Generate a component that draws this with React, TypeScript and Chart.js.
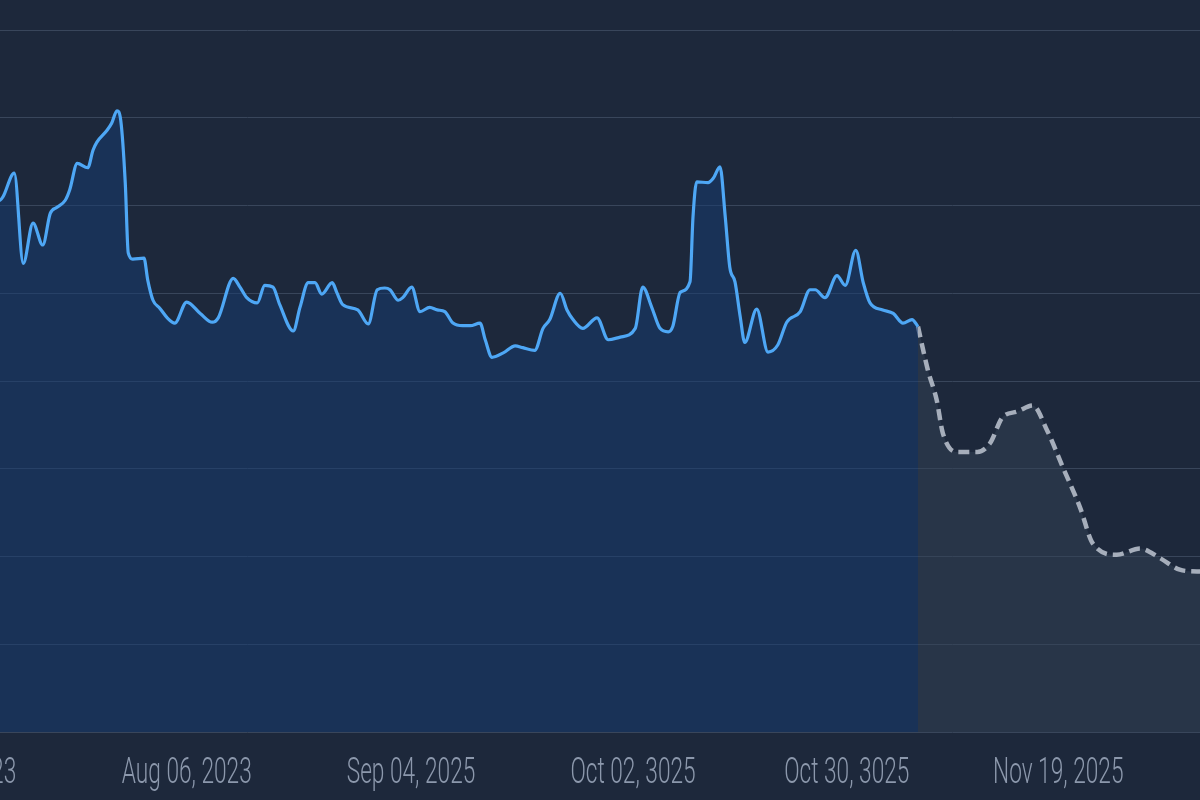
import React, { useEffect, useRef } from "react";
import { Chart, registerables } from "chart.js";

Chart.register(...registerables);

// Observed series (x = day index, y = value)
const actualDays = [
  -2, 0, 0.4, 1.9, 3.1, 4.4, 5.7, 6.7, 7.6, 8.7,
  9.3, 10.3, 11.7, 12.4, 12.9, 14.3, 14.9, 15.6, 16.1, 16.7,
  17.1, 17.7, 19.2, 19.7, 20.4, 21.3, 22.3, 23.3, 24.9, 26.7,
  28.3, 29.1, 31.1, 32.0, 32.9, 34.3, 35.3, 36.4, 37.3, 39.1,
  40.0, 41.1, 42.0, 42.9, 44.3, 44.9, 45.7, 47.7, 49.1, 50.3,
  51.3, 52.0, 53.1, 53.7, 54.9, 56.0, 57.3, 58.3, 59.3, 60.4,
  61.7, 62.7, 64.0, 64.7, 65.6, 67.1, 68.7, 69.7, 71.3, 72.4,
  73.3, 74.7, 75.6, 76.4, 77.7, 79.6, 81.1, 82.7, 84.7, 85.7,
  86.9, 88.0, 89.1, 89.7, 90.7, 92.0, 92.4, 92.9, 94.4, 95.1,
  96.0, 96.7, 97.3, 98.0, 98.7, 99.3, 100.9, 102.4, 103.7, 104.9,
  106.7, 108.0, 108.7, 110.0, 111.6, 112.7, 114.1, 115.1, 116.0, 117.7,
  119.1, 120.4, 121.6, 122.4,
];
const actualValues = [
  60.2, 60.6, 61.0, 63.7, 53.4, 58.0, 55.5, 59.1, 59.8, 60.6,
  61.8, 64.8, 64.3, 66.3, 67.2, 68.6, 69.4, 70.8, 69.7, 62.6,
  54.6, 53.9, 54.0, 51.5, 49.2, 48.3, 47.2, 46.6, 49.0, 47.7,
  46.7, 47.2, 51.7, 50.7, 49.5, 48.9, 50.9, 50.7, 48.7, 45.7,
  48.4, 51.2, 51.2, 49.9, 51.2, 50.1, 48.7, 48.1, 46.5, 50.4,
  50.6, 50.4, 49.2, 49.5, 50.7, 47.9, 48.4, 48.1, 47.9, 46.6,
  46.3, 46.3, 46.6, 44.7, 42.7, 43.2, 44.0, 43.8, 43.5, 46.0,
  47.0, 50.0, 48.1, 47.0, 46.0, 47.2, 44.7, 45.0, 46.0, 50.7,
  48.4, 46.0, 45.6, 46.2, 50.1, 51.3, 58.7, 62.7, 62.6, 63.1,
  64.4, 58.7, 53.0, 51.3, 47.3, 44.4, 48.2, 43.3, 44.1, 46.7,
  47.9, 50.4, 50.4, 49.5, 52.0, 50.9, 54.9, 51.2, 48.9, 48.1,
  47.7, 46.6, 47.0, 46.2,
];

// Forecast series
const forecastDays = [
  122.4, 123.7, 124.9, 125.7, 127.6, 130.3, 132.0, 133.7, 135.6, 137.7,
  139.6, 141.7, 144.0, 145.7, 148.9, 152.0, 154.7, 157.3, 159.6, 162.0,
];
const forecastValues = [
  46.2, 41.3, 37.8, 34.1, 31.9, 31.9, 32.9, 35.9, 36.5, 37.2,
  34.4, 30.2, 25.6, 21.5, 20.2, 20.9, 19.8, 18.5, 18.3, 18.5,
];

// X-axis tick labels and their day positions
const tickDays = [-5.9, 24.9, 54.8, 84.4, 112.9, 141.1];
const tickLabels = [
  "Jul 08, 2023",
  "Aug 06, 2023",
  "Sep 04, 2025",
  "Oct 02, 3025",
  "Oct 30, 3025",
  "Nov 19, 2025",
];

const X_MIN = -14;
const X_MAX = 174;
const Y_MIN = 0;
const Y_MAX = 80;

const BG = "#1d283b";
const GRID = "#39465b";
const LINE = "#4ea7f5";
const FILL = "rgba(22, 60, 116, 0.5)";
const FORECAST_LINE = "#a6aebb";
const FORECAST_FILL = "rgba(52, 65, 85, 0.5)";
const TICK_COLOR = "#8c98ac";

export default function App() {
  const ref = useRef<HTMLCanvasElement>(null);

  useEffect(() => {
    const canvas = ref.current;
    if (!canvas) return;

    const bgPlugin = {
      id: "bgFill",
      beforeDraw(chart: any) {
        const c = chart.ctx;
        c.save();
        c.fillStyle = BG;
        c.fillRect(0, 0, chart.width, chart.height);
        c.restore();
      },
    };

    const tickPlugin = {
      id: "condensedTicks",
      afterDraw(chart: any) {
        const c = chart.ctx;
        const xs = chart.scales.x;
        const area = chart.chartArea;
        c.save();
        c.font = '300 36px Roboto, "Noto Sans", sans-serif';
        c.fillStyle = TICK_COLOR;
        c.textAlign = "center";
        c.textBaseline = "alphabetic";
        tickDays.forEach((d, i) => {
          const px = xs.getPixelForValue(d);
          c.save();
          c.translate(px, area.bottom + 51);
          c.scale(0.63, 1);
          c.fillText(tickLabels[i], 0, 0);
          c.restore();
        });
        c.restore();
      },
    };

    const chart = new Chart(canvas, {
      type: "line",
      data: {
        datasets: [
          {
            label: "Actual",
            data: actualDays.map((d, i) => ({ x: d, y: actualValues[i] })),
            borderColor: LINE,
            backgroundColor: FILL,
            borderWidth: 3.2,
            fill: "origin",
            pointRadius: 0,
            cubicInterpolationMode: "monotone",
          },
          {
            label: "Forecast",
            data: forecastDays.map((d, i) => ({ x: d, y: forecastValues[i] })),
            borderColor: FORECAST_LINE,
            backgroundColor: FORECAST_FILL,
            borderWidth: 4.5,
            borderDash: [11, 6],
            fill: "origin",
            pointRadius: 0,
            cubicInterpolationMode: "monotone",
          },
        ],
      },
      options: {
        responsive: false,
        animation: false,
        layout: { padding: { top: 30, bottom: 68, left: 0, right: 0 } },
        plugins: {
          legend: { display: false },
          tooltip: { enabled: false },
        },
        scales: {
          x: {
            type: "linear",
            min: X_MIN,
            max: X_MAX,
            grid: { display: false, drawTicks: false },
            border: { display: false },
            ticks: { display: false },
          },
          y: {
            min: Y_MIN,
            max: Y_MAX,
            ticks: { display: false, stepSize: 10 },
            grid: { color: GRID, lineWidth: 1, drawTicks: false },
            border: { display: false },
          },
        },
      },
      plugins: [bgPlugin, tickPlugin],
    });

    return () => chart.destroy();
  }, []);

  return (
    <div
      style={{
        position: "fixed",
        left: 0,
        top: 0,
        width: 1200,
        height: 800,
        overflow: "hidden",
        background: BG,
      }}
    >
      <canvas
        ref={ref}
        width={1410}
        height={800}
        style={{ position: "absolute", left: -105, top: 0, width: 1410, height: 800 }}
      />
    </div>
  );
}
